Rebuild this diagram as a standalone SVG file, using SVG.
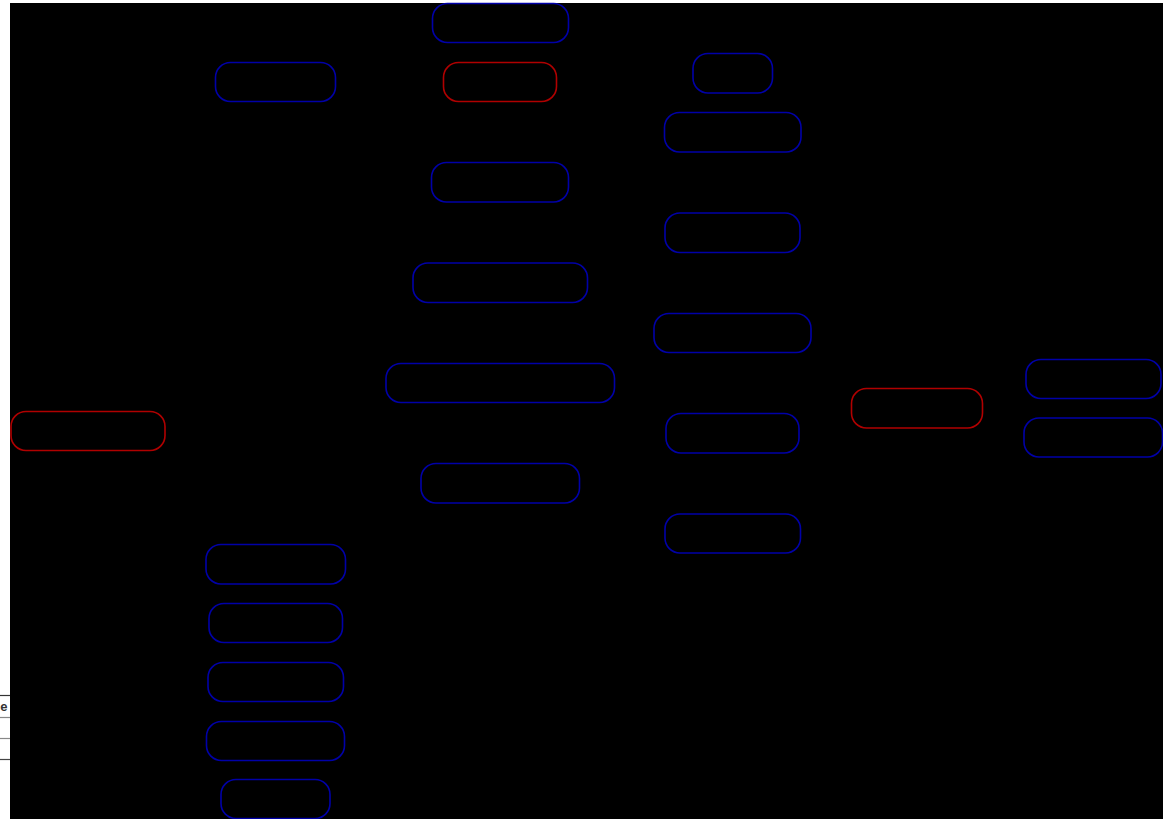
<svg xmlns="http://www.w3.org/2000/svg" width="1163" height="819" viewBox="0 0 1163 819">
<style>
.bg{fill:#000}
.n rect{fill:#000;stroke-width:1.6}
.b rect{stroke:#0000a8}
.r rect{stroke:#b00000}
.c path{fill:none;stroke:#000;stroke-width:1.5}
.strip{fill:#fff}
.rule{stroke-width:1.2}
</style>
<rect x="0" y="0" width="1163" height="819" class="strip"/>
<rect x="10" y="3" width="1153" height="816" class="bg"/>
<g id="edge-strip">
<line class="rule" x1="0" y1="695.5" x2="10" y2="695.5" stroke="#333"/>
<line class="rule" x1="0" y1="717.5" x2="10" y2="717.5" stroke="#888"/>
<line class="rule" x1="0" y1="738.5" x2="10" y2="738.5" stroke="#888"/>
<line class="rule" x1="0" y1="759.5" x2="10" y2="759.5" stroke="#444"/>
<text x="7.5" y="710.5" text-anchor="end" font-family="Liberation Sans, Arial, sans-serif" font-size="13" font-weight="bold" fill="#333">e</text>
</g>
<g id="connectors" class="c">
<path d="M982 408 C1000 408 1005 378 1025 378"/>
<path d="M982 408 C1000 408 1005 437 1023 437"/>
<path d="M851 408 C820 408 810 73 773 73"/>
<path d="M851 408 C820 408 815 132 801 132"/>
<path d="M851 408 C820 408 815 232 800 232"/>
<path d="M851 408 C825 408 825 332 811 332"/>
<path d="M851 408 C825 408 820 432 799 432"/>
<path d="M851 408 C820 408 820 533 801 533"/>
<path d="M693 73 C640 73 620 23 569 23"/>
<path d="M693 73 C640 73 620 82 557 82"/>
<path d="M664 132 C620 132 610 182 569 182"/>
<path d="M665 232 C630 232 620 283 587 283"/>
<path d="M654 332 C630 332 630 383 614 383"/>
<path d="M666 432 C630 432 620 483 580 483"/>
<path d="M443 82 C400 82 380 82 335 82"/>
<path d="M165 431 C190 431 180 564 205 564"/>
<path d="M165 431 C190 431 180 623 209 623"/>
<path d="M165 431 C190 431 180 682 207 682"/>
<path d="M165 431 C190 431 180 741 206 741"/>
<path d="M165 431 C190 431 190 799 220 799"/>
</g>
<g class="n b" id="node-top-left"><rect x="215.5" y="62.5" width="120" height="39" rx="15"/></g>
<g class="n b" id="node-m1"><rect x="432.5" y="3.5" width="136" height="39" rx="15"/></g>
<g class="n r" id="node-m2"><rect x="443.5" y="62.5" width="113" height="39" rx="15"/></g>
<g class="n b" id="node-m3"><rect x="431.5" y="162.5" width="137" height="39.5" rx="15"/></g>
<g class="n b" id="node-m4"><rect x="413" y="263" width="174.5" height="39.5" rx="15"/></g>
<g class="n b" id="node-m5"><rect x="386" y="363.5" width="228.5" height="39" rx="15"/></g>
<g class="n b" id="node-m6"><rect x="421" y="463.5" width="158.5" height="39.5" rx="15"/></g>
<g class="n b" id="node-r1"><rect x="693" y="53.5" width="79.5" height="39.5" rx="15"/></g>
<g class="n b" id="node-r2"><rect x="664.5" y="112.5" width="136.5" height="39.5" rx="15"/></g>
<g class="n b" id="node-r3"><rect x="665" y="213" width="135" height="39.5" rx="15"/></g>
<g class="n b" id="node-r4"><rect x="654" y="313.5" width="157" height="39" rx="15"/></g>
<g class="n b" id="node-r5"><rect x="666" y="413.5" width="133" height="39.5" rx="15"/></g>
<g class="n b" id="node-r6"><rect x="665" y="514" width="135.5" height="39" rx="15"/></g>
<g class="n r" id="node-hub"><rect x="851.5" y="388.5" width="131" height="39.5" rx="15"/></g>
<g class="n b" id="node-far1"><rect x="1026" y="359.5" width="135" height="39" rx="15"/></g>
<g class="n b" id="node-far2"><rect x="1024" y="418" width="138.5" height="39" rx="15"/></g>
<g class="n r" id="node-root"><rect x="11" y="411.5" width="154" height="39" rx="15"/></g>
<g class="n b" id="node-b1"><rect x="206" y="544.5" width="139.5" height="39.5" rx="15"/></g>
<g class="n b" id="node-b2"><rect x="209" y="603.5" width="133.5" height="39" rx="15"/></g>
<g class="n b" id="node-b3"><rect x="208" y="662.5" width="135.5" height="39" rx="15"/></g>
<g class="n b" id="node-b4"><rect x="206.5" y="721.5" width="138" height="39" rx="15"/></g>
<g class="n b" id="node-b5"><rect x="221" y="779.5" width="109" height="39" rx="15"/></g>
</svg>
